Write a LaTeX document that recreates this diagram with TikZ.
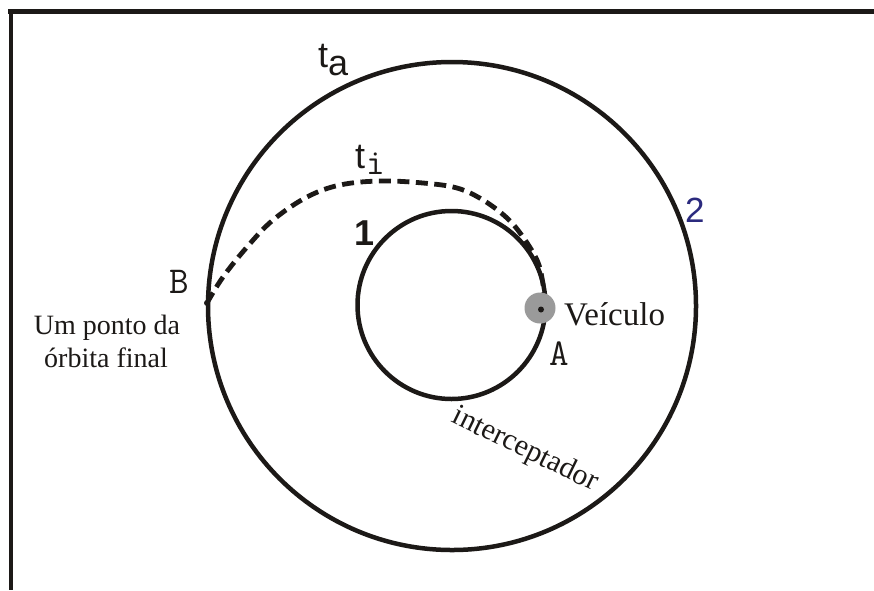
\documentclass[tikz,border=0pt]{standalone}
\usepackage{fontspec}
\setmainfont{Liberation Serif}
\newfontfamily\sansf{Liberation Sans}
\definecolor{ink}{HTML}{1C1917}
\definecolor{numblue}{HTML}{2B2A7E}
\definecolor{diskgray}{HTML}{9A9A9A}
\begin{document}
\begin{tikzpicture}[x=1pt,y=-1pt,
  orbit/.style={draw=ink,line width=4.5pt},
  transfer/.style={draw=ink,line width=4.8pt,dash pattern=on 12pt off 6.5pt},
  lbl/.style={inner sep=0pt,anchor=base,text=ink}]
\useasboundingbox (0,0) rectangle (874,590);
\fill[white] (0,0) rectangle (874,590);
% frame
\draw[ink,line width=5pt] (8,11) -- (874,11);
\draw[ink,line width=4pt] (10.5,9) -- (10.5,590);
% orbits
\coordinate (O) at (452,306);
\coordinate (I) at (451.5,305);
\draw[orbit] (O) circle[radius=244];
\draw[orbit] (I) circle[radius=94];
% transfer orbit
\coordinate (Bp) at (207,303);
\coordinate (Ae) at (544,293);
\draw[transfer] plot[smooth,tension=0.6] coordinates {(Bp) (223,277) (247,247) (273,220) (307,197) (340,185) (380,181) (423,183) (457,188) (483,200) (507,218) (523,237) (537,260) (542,278) (Ae)};
\fill[ink] (Bp) circle[radius=3];
% vehicle
\coordinate (V) at (540,308);
\fill[diskgray] (V) circle[radius=15.5];
\fill[ink] (541,309.5) circle[radius=3];
% labels
\node[lbl,anchor=base west] (ta) at (318,67) {\fontsize{36}{36}\sansf t\raisebox{-8pt}{a}};
\node[lbl,anchor=base west] (ti) at (355,168) {\fontsize{36}{36}\sansf t\kern1pt\raisebox{-6pt}{\fontsize{36}{36}\ttfamily i}};
\node[lbl,anchor=base west] (one) at (354,245) {\fontsize{36}{36}\sansf\bfseries 1};
\node[lbl,anchor=base west,text=numblue] (two) at (685,222) {\fontsize{35}{35}\sansf 2};
\node[lbl] (B) at (179,293) {\fontsize{38}{38}\ttfamily B};
\node[lbl] (A) at (559,365) {\fontsize{38}{38}\ttfamily A};
\node[lbl,anchor=base west] (veh) at (564,325) {\fontsize{33}{33}\selectfont Veículo};
\node[lbl] (um) at (107,334) {\fontsize{28}{28}\selectfont Um ponto da};
\node[lbl] (orb) at (106,367) {\fontsize{28}{28}\selectfont órbita final};
\node[inner sep=0pt,text=ink,rotate=-26] (int) at (525,450) {\fontsize{30}{30}\selectfont interceptador};
\end{tikzpicture}
\end{document}
